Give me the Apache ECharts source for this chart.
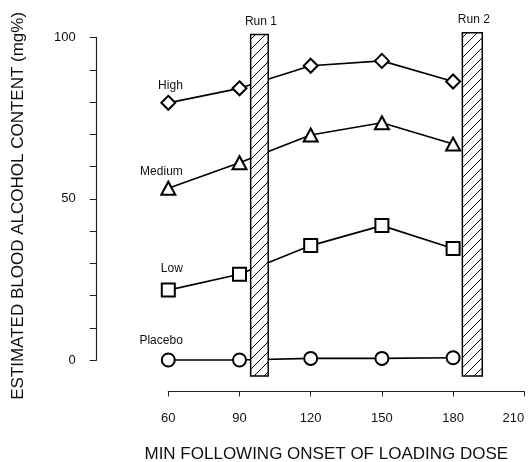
<!DOCTYPE html>
<html><head><meta charset="utf-8">
<script src="https://cdn.jsdelivr.net/npm/echarts@6/dist/echarts.min.js"></script>
<style>html,body{margin:0;padding:0;background:#fff}#c{width:531px;height:462px}</style>
</head><body><div id="c"></div>
<script>
// ---- data ----
const minutes = [60, 90, 120, 150, 180];
const high = [79.8, 84.3, 91.3, 92.8, 86.4];
const medium = [53.3, 61.2, 69.8, 73.6, 67.0];
const low = [21.7, 26.6, 35.5, 41.7, 34.6];
const placebo = [0, 0, 0.5, 0.5, 0.7];
const groupNames = ['High', 'Medium', 'Low', 'Placebo'];
const runNames = ['Run 1', 'Run 2'];
const runStart = [94.7, 183.9];
const runEnd = [102.1, 192.3];
const runBottom = [-5, -5];
const runTop = [101, 101.5];
const xTickValues = [60, 90, 120, 150, 180, 210];
const yTickLabels = [0, 50, 100];

// ---- styles ----
const FONT = 'Liberation Sans, Arial, Helvetica, sans-serif';
const INK = '#111';
const symbols = ['emptyDiamond', 'emptyTriangle', 'emptyRect', 'emptyCircle'];
const symbolSizes = [14, [14, 13], 13, 13];
const labelLift = [17, 16.5, 21, 19];

function hatchPattern() {
  const c = document.createElement('canvas');
  c.width = 10; c.height = 10;
  const g = c.getContext('2d');
  g.fillStyle = '#fff'; g.fillRect(0, 0, 10, 10);
  g.strokeStyle = '#000'; g.lineWidth = 1;
  g.beginPath();
  g.moveTo(0, 10); g.lineTo(10, 0);
  g.moveTo(-1, 1); g.lineTo(1, -1);
  g.moveTo(9, 11); g.lineTo(11, 9);
  g.stroke();
  return c;
}
const pattern = hatchPattern();

const seriesValues = [high, medium, low, placebo];
const lineSeries = seriesValues.map((vals, s) => ({
  type: 'line',
  name: groupNames[s],
  z: 2,
  clip: false,
  symbol: symbols[s],
  symbolSize: symbolSizes[s],
  showAllSymbol: true,
  lineStyle: { color: '#000', width: 1.7 },
  itemStyle: { color: '#000', borderColor: '#000', borderWidth: 1.2 },
  emphasis: { disabled: true },
  data: minutes.map((m, i) => i === 0 ? {
    value: [m, vals[i]],
    label: {
      show: true, formatter: groupNames[s], position: 'inside',
      align: 'right', verticalAlign: 'middle',
      offset: [14.5, -labelLift[s]],
      fontFamily: FONT, fontSize: 12, color: INK
    }
  } : [m, vals[i]])
}));

const runData = runNames.map((n, i) => [runStart[i], runEnd[i], runBottom[i], runTop[i]]);

const runSeries = {
  type: 'custom',
  z: 5,
  clip: false,
  encode: { x: [0, 1], y: [2, 3] },
  data: runData,
  renderItem: function (params, api) {
    const i = params.dataIndex;
    const p0 = api.coord([api.value(0), api.value(3)]);
    const p1 = api.coord([api.value(1), api.value(2)]);
    return {
      type: 'group',
      children: [
        { type: 'rect',
          shape: { x: p0[0], y: p0[1], width: p1[0] - p0[0], height: p1[1] - p0[1] },
          style: { fill: { image: pattern, repeat: 'repeat' }, stroke: '#000', lineWidth: 1.5 } },
        { type: 'text', x: (p0[0] + p1[0]) / 2 + 1.5, y: p0[1] - 7,
          style: { text: runNames[i], align: 'center', verticalAlign: 'bottom',
                   font: '12px ' + FONT, fill: INK } }
      ]
    };
  }
};

const chart = echarts.init(document.getElementById('c'), null, { renderer: 'canvas' });
chart.setOption({
  animation: false,
  backgroundColor: '#fff',
  grid: { left: 168.3, right: 6.7, top: 37.7, bottom: 102, containLabel: false, outerBoundsMode: 'none' },
  xAxis: {
    type: 'value', min: xTickValues[0], max: xTickValues[xTickValues.length - 1], interval: 30,
    offset: 31.5,
    axisLine: { show: true, onZero: false, lineStyle: { color: '#222', width: 1.2 } },
    axisTick: { show: true, length: 5, lineStyle: { color: '#222', width: 1 } },
    splitLine: { show: false },
    axisLabel: { margin: 20, fontFamily: FONT, fontSize: 13, color: INK, alignMaxLabel: 'right',
                 formatter: v => xTickValues.includes(v) ? String(v) : '' },
    name: 'MIN FOLLOWING ONSET OF LOADING DOSE',
    nameLocation: 'middle', nameGap: 54,
    nameTextStyle: { fontFamily: FONT, fontSize: 17, color: INK, padding: [0, 40, 0, 0] }
  },
  yAxis: {
    type: 'value', min: 0, max: 100, interval: 10,
    offset: 71.6,
    axisLine: { show: true, onZero: false, lineStyle: { color: '#222', width: 1.2 } },
    axisTick: { show: true, length: 7, lineStyle: { color: '#222', width: 1 } },
    splitLine: { show: false },
    axisLabel: { margin: 21, fontFamily: FONT, fontSize: 13, color: INK,
                 formatter: v => yTickLabels.includes(v) ? String(v) : '' },
    name: 'ESTIMATED BLOOD ALCOHOL CONTENT (mg%)',
    nameLocation: 'middle', nameGap: 70, nameRotate: 90,
    nameTextStyle: { fontFamily: FONT, fontSize: 17, color: INK, padding: [0, 14, 0, 0] }
  },
  series: lineSeries.concat([runSeries])
});
</script>
</body></html>
